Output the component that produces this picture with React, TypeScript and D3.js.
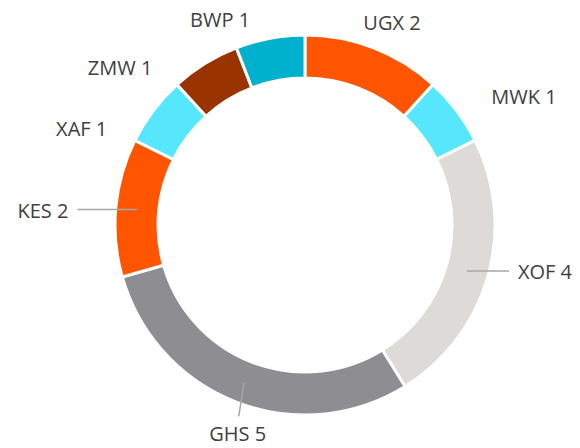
import React, { useEffect, useRef } from "react";
import * as d3 from "d3";

// currency counts, clockwise from 12 o'clock
const currencies = ["UGX", "MWK", "XOF", "GHS", "KES", "XAF", "ZMW", "BWP"];
const counts = [2, 1, 4, 5, 2, 1, 1, 1];
const colors = ["#FF5500", "#57E7FD", "#DEDAD7", "#8E8D92", "#FF5500", "#57E7FD", "#993300", "#00B1CD"];

// label placement (angle in degrees clockwise from top, radius from centre)
const labelAngles = [23.3, 55.5, 102.4, 197.8, 273.4, 296, 315.8, 337.5];
const labelRadii = [220, 226, 218, 220, 237, 220, 219, 222];
const labelAnchors = ["middle", "start", "start", "middle", "end", "end", "end", "middle"];
const hasLeader = [false, false, true, true, true, false, false, false];

const DonutChart = ({ width = 580, height = 448 }) => {
  const svgRef = useRef(null);

  useEffect(() => {
    const svg = d3.select(svgRef.current);
    svg.selectAll("*").remove();

    const cx = 305;
    const cy = 225;
    const outer = 190;
    const inner = 147;

    const data = currencies.map((name, i) => ({ name, value: counts[i], i }));

    const pie = d3
      .pie()
      .value((d) => d.value)
      .sort(null);

    const arc = d3.arc().innerRadius(inner).outerRadius(outer);

    const g = svg.append("g").attr("transform", `translate(${cx},${cy})`);
    const arcs = pie(data);

    g.selectAll(".slice")
      .data(arcs)
      .join("path")
      .attr("class", "slice")
      .attr("d", arc)
      .attr("fill", (d) => colors[d.data.i])
      .attr("stroke", "#fff")
      .attr("stroke-width", 3)
      .attr("stroke-linejoin", "miter");

    const polar = (deg, r) => {
      const a = (deg * Math.PI) / 180;
      return [Math.sin(a) * r, -Math.cos(a) * r];
    };

    // leader lines from the slice centroid towards the label
    arcs.forEach((d) => {
      const i = d.data.i;
      if (!hasLeader[i]) return;
      const [sx, sy] = arc.centroid(d);
      const [lx, ly] = polar(labelAngles[i], labelRadii[i]);
      let ex = lx;
      let ey = ly;
      if (labelAnchors[i] === "start") {
        ex = lx - 9;
        ey = sy;
      } else if (labelAnchors[i] === "end") {
        ex = lx + 9;
        ey = sy;
      } else {
        ey = ly - 18;
        ex = lx + 1;
      }
      g.append("line")
        .attr("x1", sx)
        .attr("y1", sy)
        .attr("x2", ex)
        .attr("y2", ey)
        .attr("stroke", "#A6A6A6")
        .attr("stroke-width", 1.5);
    });

    g.selectAll(".label")
      .data(arcs)
      .join("text")
      .attr("class", "label")
      .attr("x", (d) => polar(labelAngles[d.data.i], labelRadii[d.data.i])[0])
      .attr("y", (d) => polar(labelAngles[d.data.i], labelRadii[d.data.i])[1])
      .attr("dy", "0.35em")
      .attr("text-anchor", (d) => labelAnchors[d.data.i])
      .attr("font-family", "'Open Sans', sans-serif")
      .attr("font-size", "20px")
      .attr("fill", "#404040")
      .text((d) => `${d.data.name} ${d.data.value}`);
  }, [width, height]);

  return (
    <svg
      ref={svgRef}
      width={width}
      height={height}
      style={{ position: "absolute", left: 0, top: 0, background: "#fff" }}
    />
  );
};

export default function App() {
  return <DonutChart />;
}
